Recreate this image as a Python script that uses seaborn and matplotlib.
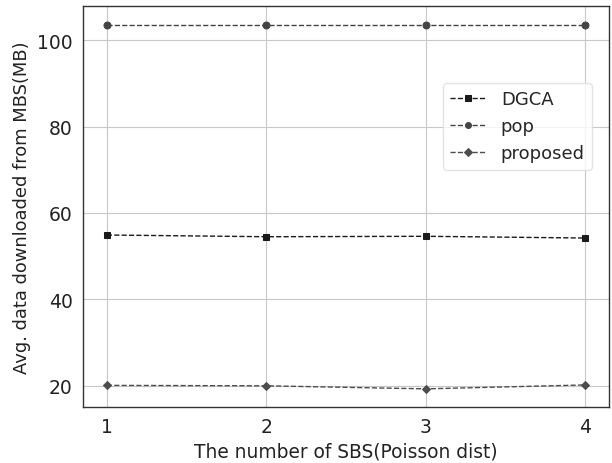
import matplotlib
matplotlib.use("Agg")
import matplotlib.pyplot as plt
import seaborn as sns
import pandas as pd

sbs_counts = [1, 2, 3, 4]
dgca = [54.9, 54.5, 54.6, 54.2]
pop = [103.6, 103.6, 103.6, 103.6]
proposed = [20.1, 20.0, 19.3, 20.2]

series_names = ["DGCA", "pop", "proposed"]
series_values = [dgca, pop, proposed]
markers = ["s", "o", "D"]
colors = ["#1a1a1a", "#444444", "#4d4d4d"]

sns.set_theme(style="whitegrid")
plt.rcParams["font.family"] = ["DejaVu Sans"]
plt.rcParams.update({
    "axes.edgecolor": "#333333",
    "axes.linewidth": 1.0,
    "grid.color": "#c8c8c8",
    "grid.linewidth": 0.8,
    "xtick.major.size": 4,
    "ytick.major.size": 4,
    "xtick.color": "#222222",
    "ytick.color": "#222222",
})

frames = []
for name, vals in zip(series_names, series_values):
    frames.append(pd.DataFrame({"sbs": sbs_counts, "value": vals, "method": name}))
df = pd.concat(frames, ignore_index=True)

fig, ax = plt.subplots(figsize=(6.12, 4.64), dpi=100)
fig.subplots_adjust(left=0.1356, right=0.995, top=0.985, bottom=0.1207)

for name, m, c in zip(series_names, markers, colors):
    sub = df[df["method"] == name]
    sns.lineplot(data=sub, x="sbs", y="value", ax=ax, label=name,
                 marker=m, markersize=5 if m != "D" else 4.5,
                 color=c, linestyle="--", linewidth=1.0,
                 markeredgecolor=c, markerfacecolor=c)

ax.set_xlim(0.85, 4.15)
ax.set_ylim(15.1, 107.9)
ax.set_xticks(sbs_counts)
ax.set_yticks([20, 40, 60, 80, 100])
ax.tick_params(axis="both", labelsize=13.5, colors="#222222")
ax.set_xlabel("The number of SBS(Poisson dist)", fontsize=13.4, color="#222222")
ax.set_ylabel("Avg. data downloaded from MBS(MB)", fontsize=12.9, color="#222222")
for sp in ax.spines.values():
    sp.set_visible(True)
    sp.set_color("#333333")

leg = ax.legend(loc="center right", bbox_to_anchor=(0.985, 0.70), fontsize=13,
                frameon=True, handlelength=2.0, markerscale=0.85)
leg.get_frame().set_edgecolor("#dddddd")

fig.savefig("out.png", dpi=100)
